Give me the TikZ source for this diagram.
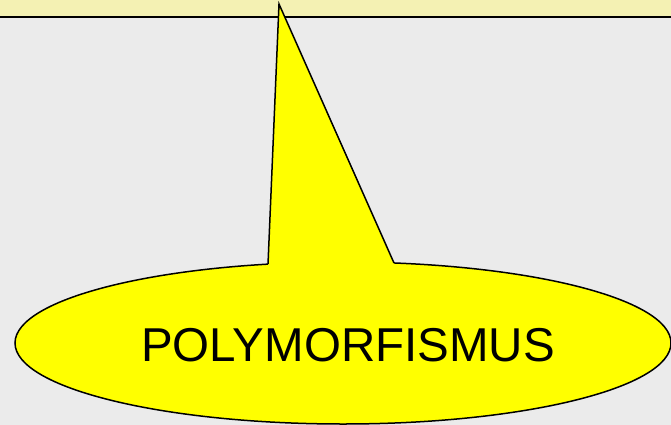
\documentclass[tikz,border=0pt]{standalone}
\usepackage{fontspec}
\setmainfont{Liberation Sans}
\usetikzlibrary{shapes.geometric}
\definecolor{bggrey}{HTML}{EBEBEB}
\definecolor{bandyellow}{HTML}{F4F1B3}
\definecolor{callyellow}{HTML}{FFFF00}
\tikzset{
  calloutfill/.style={fill=callyellow},
  calloutline/.style={draw=black, line width=1.5pt, line join=miter},
  bubble/.style={ellipse, calloutfill, calloutline, minimum width=656pt, minimum height=162pt, inner sep=0pt},
  labeltext/.style={font=\fontsize{47.5}{52}\selectfont, text=black, inner sep=0pt}
}
\begin{document}
\begin{tikzpicture}[x=1pt,y=-1pt]
  \useasboundingbox (0,0) rectangle (671,425);
  % background
  \fill[bggrey] (0,0) rectangle (671,425);
  \fill[bandyellow] (0,0) rectangle (671,17.5);
  \draw[line width=2pt] (0,17.5) -- (671,17.5);
  % callout
  \node[bubble] (bub) at (343,343) {};
  \coordinate (tip) at (279,4);
  \coordinate (bl) at (268,264.1);
  \coordinate (br) at (394,263);
  \fill[calloutfill] (tip) -- (bl) -- ([yshift=-8pt]bl) -- ([yshift=-8pt]br) -- (br) -- cycle;
  \draw[calloutline] (bl) -- (tip) -- (br);
  \node[labeltext] (lab) at (348,345) {POLYMORFISMUS};
\end{tikzpicture}
\end{document}
